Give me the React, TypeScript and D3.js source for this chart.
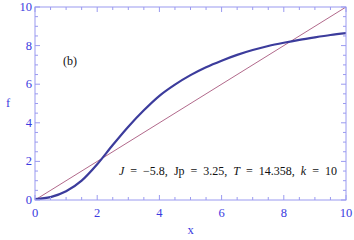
import React from 'react';
import * as d3 from 'd3';

// curve f(x)
const xs = [0, 0.5, 1, 1.5, 2, 2.5, 3, 3.5, 4, 4.5, 5, 5.5, 6, 6.5, 7, 7.5, 8, 8.5, 9, 9.5, 10];
const fs = [0.05, 0.15, 0.45, 1.0, 1.85, 2.85, 3.8, 4.65, 5.4, 5.98, 6.47, 6.88, 7.22, 7.52, 7.77, 7.98, 8.15, 8.3, 8.43, 8.55, 8.65];
const diag = [0, 10];
const majorTicks = [0, 2, 4, 6, 8, 10];

// parameter label: [name, italic?, value]
const params: [string, boolean, string][] = [
  ['J', true, '−5.8'],
  ['Jp', false, '3.25'],
  ['T', true, '14.358'],
  ['k', true, '10'],
];

const W = 354, H = 240;
const margin = { top: 7, right: 8, bottom: 40, left: 35 };
const FONT = '"Liberation Serif", "Times New Roman", "DejaVu Serif", serif';

const App = () => {
  const x = d3.scaleLinear().domain([0, 10]).range([margin.left, W - margin.right]);
  const y = d3.scaleLinear().domain([0, 10]).range([H - margin.bottom, margin.top]);
  const minor = d3.range(0, 10.001, 0.5).filter(v => !majorTicks.includes(v));

  const line = d3.line<number>().x((d, i) => x(xs[i])).y(d => y(d)).curve(d3.curveMonotoneX);
  const frame = '#9a9af0';
  const lab = '#3a3ae0';
  const x0 = x(0), x1 = x(10), y0 = y(0), y1 = y(10);

  return (
    <svg width={W} height={H} style={{ position: 'absolute', left: 0, top: 0, fontFamily: FONT }}>
      <defs>
        <clipPath id="plot"><rect x={x0} y={y1} width={x1 - x0} height={y0 - y1} /></clipPath>
      </defs>
      <g clipPath="url(#plot)">
        <line x1={x(diag[0])} y1={y(diag[0])} x2={x(diag[1])} y2={y(diag[1])} stroke="#a8587e" strokeWidth={0.9} />
        <path d={line(fs) || ''} fill="none" stroke="#3c3c9c" strokeWidth={2.2} />
      </g>
      <rect x={x0} y={y1} width={x1 - x0} height={y0 - y1} fill="none" stroke={frame} strokeWidth={1} />
      {majorTicks.map(v => (
        <g key={'M' + v} stroke={frame}>
          <line x1={x(v)} x2={x(v)} y1={y0} y2={y0 - 5} />
          <line x1={x(v)} x2={x(v)} y1={y1} y2={y1 + 5} />
          <line x1={x0} x2={x0 + 5} y1={y(v)} y2={y(v)} />
          <line x1={x1} x2={x1 - 5} y1={y(v)} y2={y(v)} />
        </g>
      ))}
      {minor.map(v => (
        <g key={'m' + v} stroke={frame}>
          <line x1={x(v)} x2={x(v)} y1={y0} y2={y0 - 3} />
          <line x1={x(v)} x2={x(v)} y1={y1} y2={y1 + 3} />
          <line x1={x0} x2={x0 + 3} y1={y(v)} y2={y(v)} />
          <line x1={x1} x2={x1 - 3} y1={y(v)} y2={y(v)} />
        </g>
      ))}
      {majorTicks.map(v => (
        <text key={'xl' + v} x={x(v)} y={y0 + 17} textAnchor="middle" fontSize={12.5} fill={lab}>{v}</text>
      ))}
      {majorTicks.map(v => (
        <text key={'yl' + v} x={x0 - 3} y={y(v) + 4} textAnchor="end" fontSize={12.5} fill={lab}>{v}</text>
      ))}
      <text x={x(5)} y={234} textAnchor="middle" fontSize={12.5} fill={lab}>x</text>
      <text x={8} y={107} textAnchor="middle" fontSize={12.5} fill={lab}>f</text>
      <text x={63} y={65} fontSize={12} fill="#111">(b)</text>
      <text x={119} y={175} fontSize={12} fill="#111" wordSpacing={3} style={{ whiteSpace: 'pre' }}>
        {params.map(([n, it, v], i) => (
          <React.Fragment key={i}>
            <tspan fontStyle={it ? 'italic' : 'normal'}>{n}</tspan>
            <tspan>{` = ${v}${i < params.length - 1 ? ', ' : ''}`}</tspan>
          </React.Fragment>
        ))}
      </text>
    </svg>
  );
};

export default App;
